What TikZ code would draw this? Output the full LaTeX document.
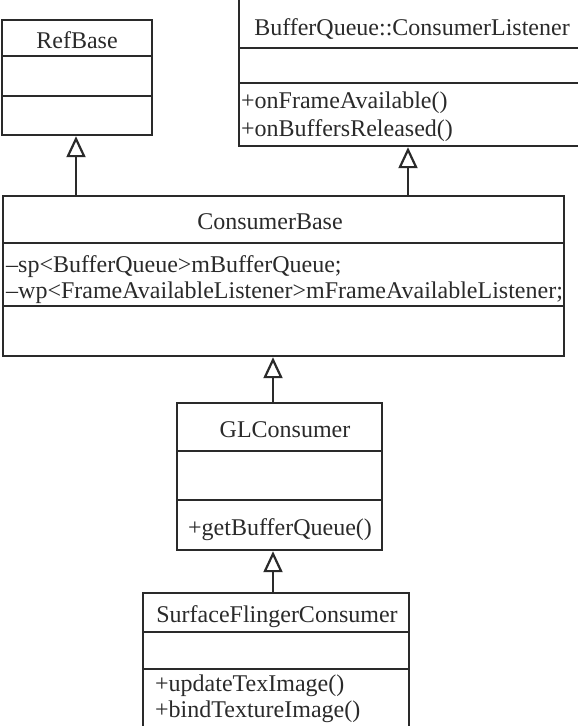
\documentclass[tikz,border=0pt]{standalone}
\usepackage{fontspec}
\setmainfont{Liberation Serif}
\usetikzlibrary{arrows.meta}
\definecolor{ink}{HTML}{2A2A2A}
\tikzset{
  umlbox/.style={draw=ink, line width=2.2pt, rectangle, inner sep=0pt, anchor=north west},
  sep/.style={draw=ink, line width=2.2pt},
  txt/.style={inner sep=0pt, text=ink, font=\fontsize{24}{26}\selectfont},
  inh/.style={draw=ink, line width=2.2pt, -{Triangle[open, length=21pt, width=19pt, line width=2.2pt]}}
}
\begin{document}
\begin{tikzpicture}[x=1pt,y=-1pt]
\useasboundingbox (0,0) rectangle (578,726);
% RefBase
\node[umlbox, minimum width=150pt, minimum height=115pt] (refbase) at (1,19) {};
\draw[sep] (refbase.west |- 0,56) -- (refbase.east |- 0,56);
\draw[sep] (refbase.west |- 0,96) -- (refbase.east |- 0,96);
\node[txt, anchor=base] (refbase-t) at (77,48) {RefBase};
% BufferQueue::ConsumerListener
\node[umlbox, minimum width=341pt, minimum height=150pt] (bql) at (238,-5) {};
\draw[sep] (bql.west |- 0,48) -- (bql.east |- 0,48);
\draw[sep] (bql.west |- 0,83) -- (bql.east |- 0,83);
\node[txt, anchor=base] (bql-t) at (412,35) {BufferQueue::ConsumerListener};
\node[txt, anchor=base west] (bql-m1) at (241,108) {+onFrameAvailable()};
\node[txt, anchor=base west] (bql-m2) at (241,136) {+onBuffersReleased()};
% ConsumerBase
\node[umlbox, minimum width=561pt, minimum height=160pt] (cb) at (2,195) {};
\draw[sep] (cb.west |- 0,243) -- (cb.east |- 0,243);
\draw[sep] (cb.west |- 0,306) -- (cb.east |- 0,306);
\node[txt, anchor=base] (cb-t) at (270,229) {ConsumerBase};
\node[txt, anchor=base west] (cb-m1) at (6,272) {–sp<BufferQueue>mBufferQueue;};
\node[txt, anchor=base west] (cb-m2) at (6,298) {–wp<FrameAvailableListener>mFrameAvailableListener;};
% GLConsumer
\node[umlbox, minimum width=205pt, minimum height=147pt] (gl) at (176,402) {};
\draw[sep] (gl.west |- 0,451) -- (gl.east |- 0,451);
\draw[sep] (gl.west |- 0,500) -- (gl.east |- 0,500);
\node[txt, anchor=base] (gl-t) at (285,437) {GLConsumer};
\node[txt, anchor=base west] (gl-m1) at (188,535) {+getBufferQueue()};
% SurfaceFlingerConsumer
\node[umlbox, minimum width=266pt, minimum height=150pt] (sfc) at (142,592) {};
\draw[sep] (sfc.west |- 0,632) -- (sfc.east |- 0,632);
\draw[sep] (sfc.west |- 0,669) -- (sfc.east |- 0,669);
\node[txt, anchor=base] (sfc-t) at (277,622) {SurfaceFlingerConsumer};
\node[txt, anchor=base west] (sfc-m1) at (155,691) {+updateTexImage()};
\node[txt, anchor=base west] (sfc-m2) at (155,717) {+bindTextureImage()};
% inheritance connectors
\coordinate (axisA) at (76,0);
\coordinate (axisB) at (408,0);
\coordinate (axisC) at (273,0);
\draw[inh] (axisA |- cb.north) -- (axisA |- refbase.south);
\draw[inh] (axisB |- cb.north) -- (axisB |- bql.south);
\draw[inh] (axisC |- gl.north) -- (axisC |- cb.south);
\draw[inh] (axisC |- sfc.north) -- (axisC |- gl.south);
\end{tikzpicture}
\end{document}
